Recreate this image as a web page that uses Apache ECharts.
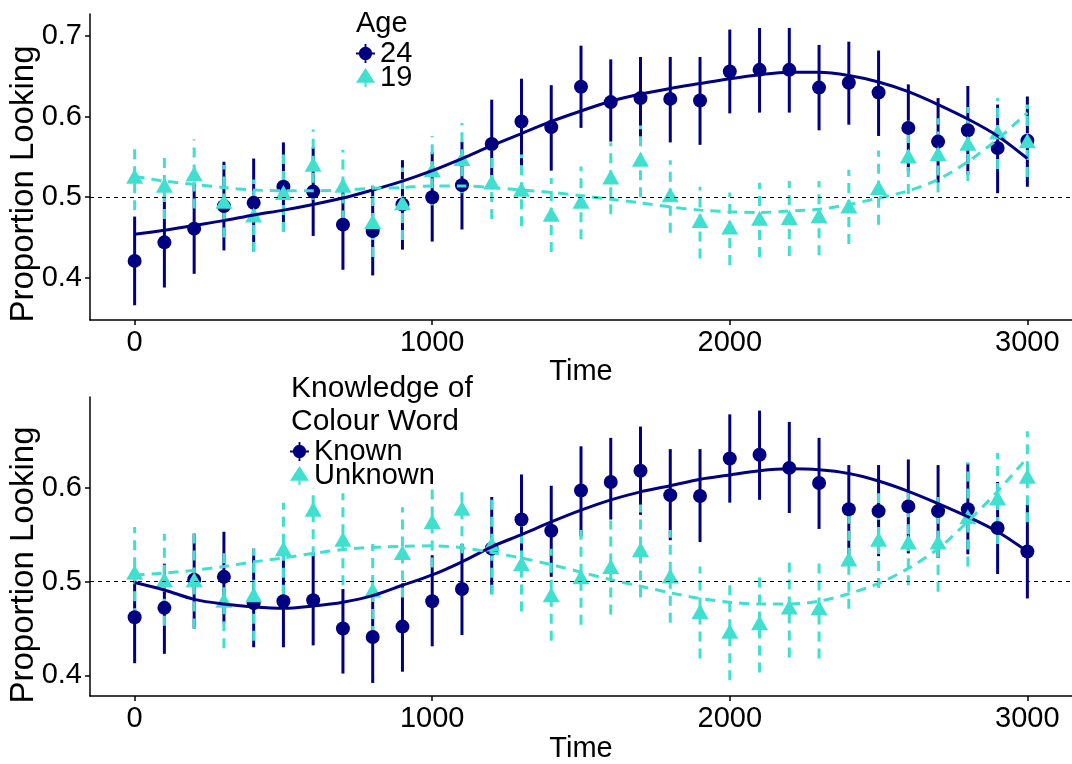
<!DOCTYPE html>
<html>
<head>
<meta charset="utf-8">
<title>Proportion Looking over Time</title>
<script src="https://cdn.jsdelivr.net/npm/echarts@6.0.0/dist/echarts.min.js"></script>
<style>
  html, body { margin: 0; padding: 0; background: #fff; }
  #chart { width: 1072px; height: 764px; }
</style>
</head>
<body>
<div id="chart"></div>
<script>
// time points (ms)
const times = [0, 100, 200, 300, 400, 500, 600, 700, 800, 900, 1000, 1100, 1200, 1300, 1400, 1500,
  1600, 1700, 1800, 1900, 2000, 2100, 2200, 2300, 2400, 2500, 2600, 2700, 2800, 2900, 3000]

const xTicks = [0, 1000, 2000, 3000]
const yTicksTop = [0.4, 0.5, 0.6, 0.7]
const yTicksBottom = [0.4, 0.5, 0.6]
const chanceLevel = 0.5

// top panel: Age
const ageNames = ['24', '19']
const age24Mean = [0.421, 0.444, 0.461, 0.489, 0.493, 0.513, 0.507, 0.466, 0.458, 0.491, 0.500, 0.515, 0.566, 0.594, 0.587, 0.637,
  0.618, 0.623, 0.622, 0.620, 0.656, 0.658, 0.658, 0.636, 0.642, 0.630, 0.586, 0.569, 0.583, 0.561, 0.570]
const age24Low = [0.366, 0.388, 0.405, 0.434, 0.433, 0.458, 0.452, 0.410, 0.403, 0.435, 0.445, 0.460, 0.510, 0.539, 0.533, 0.586,
  0.569, 0.570, 0.568, 0.565, 0.604, 0.605, 0.605, 0.583, 0.590, 0.576, 0.532, 0.518, 0.528, 0.505, 0.513]
const age24High = [0.476, 0.502, 0.517, 0.544, 0.548, 0.568, 0.562, 0.521, 0.514, 0.546, 0.556, 0.569, 0.621, 0.647, 0.639, 0.688,
  0.671, 0.674, 0.674, 0.674, 0.708, 0.710, 0.710, 0.689, 0.693, 0.682, 0.640, 0.623, 0.638, 0.615, 0.625]
const age24Fit = [0.454, 0.459, 0.465, 0.471, 0.478, 0.484, 0.491, 0.499, 0.509, 0.520, 0.533, 0.548, 0.564, 0.579, 0.594, 0.607,
  0.619, 0.628, 0.635, 0.641, 0.647, 0.652, 0.655, 0.655, 0.651, 0.643, 0.631, 0.615, 0.597, 0.576, 0.548]

const age19Mean = [0.526, 0.515, 0.529, 0.495, 0.478, 0.506, 0.541, 0.515, 0.470, 0.493, 0.534, 0.548, 0.519, 0.510, 0.479, 0.495,
  0.525, 0.547, 0.503, 0.471, 0.463, 0.474, 0.475, 0.477, 0.489, 0.512, 0.551, 0.554, 0.567, 0.581, 0.570]
const age19Low = [0.484, 0.473, 0.486, 0.450, 0.432, 0.457, 0.497, 0.471, 0.426, 0.447, 0.490, 0.505, 0.473, 0.464, 0.432, 0.448,
  0.479, 0.500, 0.456, 0.424, 0.416, 0.426, 0.427, 0.428, 0.442, 0.466, 0.504, 0.506, 0.520, 0.535, 0.525]
const age19High = [0.568, 0.557, 0.572, 0.540, 0.522, 0.553, 0.584, 0.559, 0.515, 0.537, 0.576, 0.592, 0.563, 0.553, 0.524, 0.538,
  0.568, 0.589, 0.546, 0.513, 0.506, 0.518, 0.520, 0.520, 0.534, 0.558, 0.595, 0.598, 0.612, 0.623, 0.615]
const age19Fit = [0.526, 0.520, 0.516, 0.512, 0.509, 0.508, 0.508, 0.509, 0.511, 0.512, 0.514, 0.514, 0.512, 0.509, 0.506, 0.502,
  0.4975, 0.493, 0.488, 0.484, 0.482, 0.481, 0.483, 0.485, 0.491, 0.499, 0.508, 0.522, 0.544, 0.572, 0.605]

// bottom panel: Knowledge of Colour Word
const knowNames = ['Known', 'Unknown']
const knownMean = [0.462, 0.472, 0.502, 0.505, 0.477, 0.479, 0.480, 0.450, 0.441, 0.452, 0.479, 0.492, 0.535, 0.566, 0.554, 0.597,
  0.606, 0.618, 0.592, 0.591, 0.631, 0.635, 0.621, 0.605, 0.577, 0.575, 0.580, 0.575, 0.577, 0.557, 0.532]
const knownLow = [0.413, 0.423, 0.450, 0.456, 0.430, 0.430, 0.432, 0.402, 0.392, 0.404, 0.431, 0.443, 0.487, 0.518, 0.505, 0.548,
  0.566, 0.571, 0.544, 0.542, 0.584, 0.587, 0.573, 0.556, 0.529, 0.527, 0.530, 0.525, 0.529, 0.508, 0.482]
const knownHigh = [0.511, 0.519, 0.551, 0.553, 0.535, 0.530, 0.531, 0.492, 0.490, 0.498, 0.528, 0.540, 0.590, 0.614, 0.602, 0.644,
  0.653, 0.665, 0.641, 0.641, 0.678, 0.682, 0.670, 0.653, 0.624, 0.624, 0.630, 0.624, 0.626, 0.606, 0.582]
const knownFit = [0.499, 0.491, 0.481, 0.476, 0.473, 0.4715, 0.474, 0.478, 0.485, 0.496, 0.507, 0.521, 0.537, 0.550, 0.5635, 0.576,
  0.587, 0.5955, 0.602, 0.609, 0.6135, 0.618, 0.620, 0.619, 0.615, 0.607, 0.596, 0.583, 0.569, 0.553, 0.532]

const unknownMean = [0.510, 0.502, 0.502, 0.480, 0.486, 0.535, 0.577, 0.545, 0.491, 0.531, 0.564, 0.578, 0.540, 0.519, 0.486, 0.505,
  0.516, 0.534, 0.506, 0.468, 0.447, 0.456, 0.473, 0.472, 0.524, 0.545, 0.542, 0.542, 0.569, 0.589, 0.612]
const unknownLow = [0.461, 0.453, 0.450, 0.429, 0.437, 0.486, 0.527, 0.496, 0.442, 0.483, 0.515, 0.530, 0.486, 0.468, 0.437, 0.454,
  0.465, 0.483, 0.456, 0.418, 0.395, 0.403, 0.419, 0.418, 0.471, 0.493, 0.496, 0.489, 0.516, 0.540, 0.563]
const unknownHigh = [0.558, 0.551, 0.555, 0.530, 0.535, 0.584, 0.625, 0.594, 0.540, 0.579, 0.605, 0.625, 0.591, 0.567, 0.535, 0.555,
  0.565, 0.582, 0.555, 0.516, 0.497, 0.505, 0.522, 0.521, 0.572, 0.594, 0.597, 0.590, 0.627, 0.637, 0.660]
const unknownFit = [0.507, 0.509, 0.512, 0.516, 0.521, 0.525, 0.530, 0.534, 0.5365, 0.5375, 0.538, 0.536, 0.531, 0.525, 0.518, 0.510,
  0.502, 0.495, 0.488, 0.482, 0.478, 0.476, 0.476, 0.479, 0.487, 0.498, 0.514, 0.535, 0.564, 0.596, 0.632]

const NAVY = '#000080'
const TURQ = '#40E0D0'
const FONT = '"Liberation Sans", Arial, Helvetica, sans-serif'
const DASH = [10, 7]

// legend keys: point + error bar / line
const circleKey = 'path://M10,3 A7,7 0 1,1 9.99,3 Z M9,0 L11,0 L11,20 L9,20 Z M0,9 L20,9 L20,11 L0,11 Z'
const triangleKey = 'path://M10,2 L19,16 L1,16 Z M9,16 L11,16 L11,20 L9,20 Z'

const errorBars = (name, idx, lows, highs, color, dashed) => ({
  type: 'custom',
  name: name,
  xAxisIndex: idx,
  yAxisIndex: idx,
  silent: true,
  data: times.map((t, i) => [t, lows[i], highs[i]]),
  encode: { x: 0, y: [1, 2] },
  renderItem: (params, api) => {
    const lo = api.coord([api.value(0), api.value(1)])
    const hi = api.coord([api.value(0), api.value(2)])
    return {
      type: 'line',
      shape: { x1: lo[0], y1: lo[1], x2: hi[0], y2: hi[1] },
      style: { stroke: color, lineWidth: 3, lineDash: dashed ? DASH : null, fill: null },
    }
  },
})

const points = (name, idx, means, color, symbol, size) => ({
  type: 'scatter',
  name: name,
  xAxisIndex: idx,
  yAxisIndex: idx,
  silent: true,
  symbol: symbol,
  symbolSize: size,
  itemStyle: { color: color, opacity: 1 },
  data: times.map((t, i) => [t, means[i]]),
})

const fitLine = (name, idx, fit, color, dashed) => ({
  type: 'line',
  name: name,
  xAxisIndex: idx,
  yAxisIndex: idx,
  silent: true,
  smooth: 0.3,
  showSymbol: false,
  lineStyle: { color: color, width: 3, type: dashed ? DASH : 'solid' },
  data: times.map((t, i) => [t, fit[i]]),
})

const chanceLine = (idx) => ({
  type: 'line',
  name: 'chance' + idx,
  xAxisIndex: idx,
  yAxisIndex: idx,
  silent: true,
  data: [],
  markLine: {
    silent: true,
    symbol: ['none', 'none'],
    label: { show: false },
    lineStyle: { color: '#000', width: 1.2, type: [4, 4] },
    data: [{ yAxis: chanceLevel }],
  },
})

const xAxisOf = (idx) => ({
  type: 'value',
  gridIndex: idx,
  min: -150,
  max: 3150,
  name: 'Time',
  nameLocation: 'middle',
  nameGap: 33,
  nameTextStyle: { fontSize: 29, color: '#000', fontFamily: FONT },
  axisLine: { onZero: false, lineStyle: { color: '#000', width: 1.5 } },
  axisTick: { customValues: xTicks, length: 5, lineStyle: { color: '#000', width: 1.5 } },
  axisLabel: { customValues: xTicks, fontSize: 29, color: '#000', margin: 8, fontFamily: FONT,
    formatter: (v) => String(v) },
  splitLine: { show: false },
})

const yAxisOf = (idx, min, max, ticks) => ({
  type: 'value',
  gridIndex: idx,
  min: min,
  max: max,
  axisLine: { show: true, onZero: false, lineStyle: { color: '#000', width: 1.5 } },
  axisTick: { show: true, customValues: ticks, length: 5, lineStyle: { color: '#000', width: 1.5 } },
  axisLabel: { customValues: ticks, fontSize: 29, color: '#000', margin: 8, fontFamily: FONT,
    formatter: (v) => v.toFixed(1) },
  splitLine: { show: false },
})

const chart = echarts.init(document.getElementById('chart'), null, { renderer: 'canvas' })

chart.setOption({
  backgroundColor: '#fff',
  animation: false,
  textStyle: { fontFamily: FONT },
  grid: [
    { left: 90, top: 14, width: 984, height: 306 },
    { left: 90, top: 397, width: 984, height: 305 },
  ],
  xAxis: [xAxisOf(0), xAxisOf(1)],
  yAxis: [
    yAxisOf(0, 0.3477, 0.7273, yTicksTop),
    yAxisOf(1, 0.378, 0.6965, yTicksBottom),
  ],
  legend: [
    {
      orient: 'vertical',
      left: 351,
      top: 34,
      itemWidth: 19,
      itemHeight: 19,
      itemGap: -5,
      selectedMode: false,
      textStyle: { fontSize: 29, color: '#000', fontFamily: FONT },
      data: [
        { name: ageNames[0], icon: circleKey },
        { name: ageNames[1], icon: triangleKey },
      ],
    },
    {
      orient: 'vertical',
      left: 285,
      top: 432,
      itemWidth: 19,
      itemHeight: 19,
      itemGap: -5,
      selectedMode: false,
      textStyle: { fontSize: 29, color: '#000', fontFamily: FONT },
      data: [
        { name: knowNames[0], icon: circleKey },
        { name: knowNames[1], icon: triangleKey },
      ],
    },
  ],
  graphic: [
    // legend box background (hides the bars behind it, like the original)
    { type: 'rect', z: 3, shape: { x: 288, y: 372, width: 188, height: 116 }, style: { fill: '#fff' } },
    { type: 'text', z: 5, left: 356, top: 9,
      style: { text: 'Age', font: '29px ' + FONT, fill: '#000' } },
    { type: 'text', z: 5, left: 291, top: 372,
      style: { text: 'Knowledge of\nColour Word', font: '30px ' + FONT, fill: '#000', lineHeight: 33 } },
    { type: 'text', z: 5, x: 24, y: 184, rotation: Math.PI / 2,
      style: { text: 'Proportion Looking', font: '33px ' + FONT, fill: '#000', align: 'center', verticalAlign: 'middle' } },
    { type: 'text', z: 5, x: 24, y: 565, rotation: Math.PI / 2,
      style: { text: 'Proportion Looking', font: '33px ' + FONT, fill: '#000', align: 'center', verticalAlign: 'middle' } },
  ],
  series: [
    chanceLine(0),
    errorBars('bars24', 0, age24Low, age24High, NAVY, false),
    errorBars('bars19', 0, age19Low, age19High, TURQ, true),
    points(ageNames[0], 0, age24Mean, NAVY, 'circle', 14),
    points(ageNames[1], 0, age19Mean, TURQ, 'triangle', [17, 15]),
    fitLine('fit24', 0, age24Fit, NAVY, false),
    fitLine('fit19', 0, age19Fit, TURQ, true),

    chanceLine(1),
    errorBars('barsKnown', 1, knownLow, knownHigh, NAVY, false),
    errorBars('barsUnknown', 1, unknownLow, unknownHigh, TURQ, true),
    points(knowNames[0], 1, knownMean, NAVY, 'circle', 14),
    points(knowNames[1], 1, unknownMean, TURQ, 'triangle', [17, 15]),
    fitLine('fitKnown', 1, knownFit, NAVY, false),
    fitLine('fitUnknown', 1, unknownFit, TURQ, true),
  ],
})
</script>
</body>
</html>
